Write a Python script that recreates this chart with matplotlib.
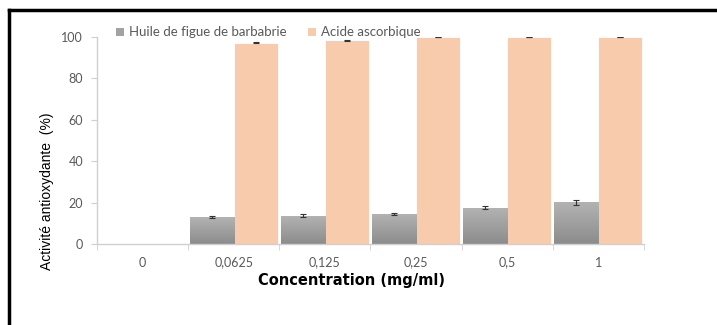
import matplotlib
matplotlib.use("Agg")
import matplotlib.pyplot as plt
import numpy as np
from matplotlib.lines import Line2D
from matplotlib.patches import Patch

# ---------------------------------------------------------------------------
# Data
# ---------------------------------------------------------------------------
categories = ["0", "0,0625", "0,125", "0,25", "0,5", "1"]
huile_vals = [0, 13.0, 13.8, 14.5, 17.5, 20.1]
huile_err = [0, 0.4, 0.6, 0.5, 0.7, 1.3]
acide_vals = [0, 97.2, 98.5, 100.0, 100.0, 100.0]
acide_err = [0, 0.3, 0.3, 0.2, 0.2, 0.2]
series_labels = ["Huile de figue de barbabrie", "Acide ascorbique"]

GRAY = "#a3a3a3"
ORANGE = "#f8cbad"
TICK_GRAY = "#595959"
AXIS_GRAY = "#d0d0d0"

fig = plt.figure(figsize=(7.17, 3.25), dpi=100)
ax = fig.add_axes([0.1353, 0.249, 0.7627, 0.637])

x = np.arange(len(categories))
w = 0.485

# skip empty bars at concentration 0
mask = np.array(huile_vals) > 0
gray_bars = ax.bar(x[mask] - w / 2, np.array(huile_vals)[mask], width=w,
                   color=GRAY, edgecolor="white", linewidth=0.6,
                   yerr=np.array(huile_err)[mask], capsize=2.5,
                   error_kw=dict(ecolor="#333333", elinewidth=0.8,
                                 capthick=0.8, zorder=4))
ax.bar(x[mask] + w / 2, np.array(acide_vals)[mask], width=w, color=ORANGE,
       edgecolor="white", linewidth=0.6,
       yerr=np.array(acide_err)[mask], capsize=2.5,
       error_kw=dict(ecolor="#333333", elinewidth=0.8, capthick=0.8))

# light-to-dark vertical gradient on the grey bars, as in the reference
grad = np.linspace(0, 1, 64).reshape(-1, 1)
cmap = matplotlib.colors.LinearSegmentedColormap.from_list(
    "g", ["#8c8c8c", "#b3b3b3"])
for bar in gray_bars:
    bx, by = bar.get_x(), bar.get_y()
    bw, bh = bar.get_width(), bar.get_height()
    im = ax.imshow(grad, extent=(bx, bx + bw, by, by + bh), origin="lower",
                   aspect="auto", cmap=cmap, zorder=bar.get_zorder() + 0.1)
    im.set_clip_path(bar)

ax.set_xlim(-0.5, len(categories) - 0.5)
ax.set_ylim(0, 100)
ax.set_yticks(range(0, 101, 20))
ax.set_xticks(x)
ax.set_xticklabels(categories)
ax.set_xticks(np.arange(-0.5, len(categories)), minor=True)

for side in ["top", "right"]:
    ax.spines[side].set_visible(False)
for side in ["left", "bottom"]:
    ax.spines[side].set_color(AXIS_GRAY)
    ax.spines[side].set_linewidth(1.0)

ax.tick_params(axis="y", length=4, color=AXIS_GRAY, labelsize=9,
               labelcolor=TICK_GRAY, pad=6)
ax.tick_params(axis="x", which="major", length=0, labelsize=9,
               labelcolor=TICK_GRAY, pad=9)
ax.tick_params(axis="x", which="minor", length=4, color=AXIS_GRAY)
for lab in ax.get_xticklabels() + ax.get_yticklabels():
    lab.set_family("Lato")

# axis titles placed like in the reference (offset from the axes centre)
fig.text(47 / 717, 1 - 191 / 325, "Activité antioxydante  (%)",
         rotation=90, ha="center", va="center", fontsize=10,
         family="Liberation Sans")
fig.text(351 / 717, 1 - 280 / 325, "Concentration (mg/ml)",
         ha="center", va="center", fontsize=10.5, fontweight="semibold",
         family="DejaVu Sans")

handles = [Patch(facecolor=GRAY), Patch(facecolor=ORANGE)]
leg = fig.legend(handles, series_labels, loc="center left",
                 bbox_to_anchor=(0.145, 0.9), ncol=2, frameon=False,
                 prop={"family": "Lato", "size": 9.5}, handlelength=0.6,
                 handleheight=0.6, handletextpad=0.4, columnspacing=1.6)
for t in leg.get_texts():
    t.set_color(TICK_GRAY)

# outer frame (top and left edges visible in the reference)
fig.add_artist(Line2D([0.012, 1.0], [0.969, 0.969], color="black",
                      linewidth=2.5, transform=fig.transFigure))
fig.add_artist(Line2D([0.012, 0.012], [0.0, 0.969], color="black",
                      linewidth=2.5, transform=fig.transFigure))

fig.savefig("out.png", dpi=100)
